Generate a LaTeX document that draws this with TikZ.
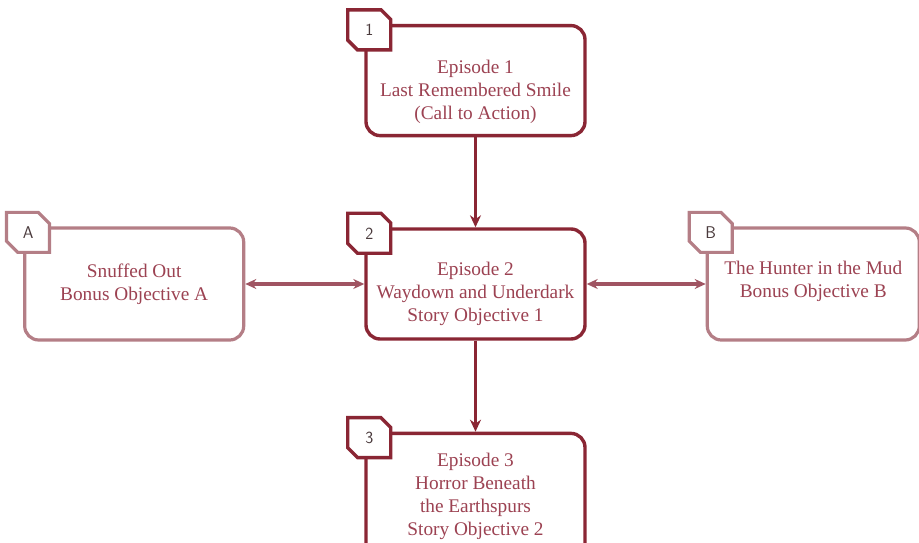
\documentclass[tikz,border=0pt]{standalone}
\usepackage{fontspec}
\setmainfont{Liberation Serif}
\usepackage{xcolor}
\definecolor{darkred}{RGB}{138,38,52}
\definecolor{palered}{RGB}{180,126,134}
\definecolor{linkred}{RGB}{160,84,98}
\definecolor{textred}{RGB}{156,66,82}
\definecolor{tagtext}{HTML}{4A3A3C}
\usetikzlibrary{positioning,shapes.misc,arrows.meta}

\begin{document}
\begin{tikzpicture}[x=1pt, y=1pt, node distance = 91pt and 119pt,
    episode/.style={rectangle, minimum width=219pt, minimum height=110pt,
        rounded corners=14pt, line width=3.4pt, draw=darkred, fill=white},
    bonus/.style={episode, draw=palered, line width=3.2pt, minimum height=112pt},
    tag/.style={chamfered rectangle, chamfered rectangle corners={north east,south west},
        chamfered rectangle xsep=8pt, chamfered rectangle ysep=8pt, inner sep=0pt,
        minimum width=43pt, minimum height=40pt, line width=3.4pt, draw=darkred,
        fill=white, font=\sffamily\fontsize{17}{17}\selectfont, text=tagtext},
    storytext/.style={align=center, text=textred, font=\fontsize{19.3}{23}\selectfont},
    link/.style={line width=3.4pt, draw=darkred, -{Stealth[length=12pt,width=11pt]}},
    sidelink/.style={line width=3.4pt, draw=linkred,
        {Stealth[length=11pt,width=10pt]}-{Stealth[length=11pt,width=10pt]}}]
    \clip (-475.5,-259) rectangle (443.5,284);
    % boxes
    \node (E2) [episode] {};
    \node (E1) [episode, above=90pt of E2] {};
    \node (E3) [episode, below=of E2, minimum height=125pt] {};
    \node (BA) [bonus, left=of E2] {};
    \node (BB) [bonus, right=of E2, minimum width=212pt] {};
    % texts
    \node (E1txt) [storytext] at ([yshift=-11pt]E1.center) {Episode 1\\Last Remembered Smile\\(Call to Action)};
    \node (E2txt) [storytext] at ([yshift=-10pt]E2.center) {Episode 2\\Waydown and Underdark\\Story Objective 1};
    \node (E3txt) [storytext] at (E3.center) {Episode 3\\Horror Beneath\\the Earthspurs\\Story Objective 2};
    \node (BAtxt) [storytext] at (BA.center) {Snuffed Out\\Bonus Objective A};
    \node (BBtxt) [storytext] at ([yshift=3pt]BB.center) {The Hunter in the Mud\\Bonus Objective B};
    % tags
    \node (T1) [tag] at ([xshift=5pt,yshift=-6pt]E1.north west) {1};
    \node (T2) [tag] at ([xshift=5pt,yshift=-6pt]E2.north west) {2};
    \node (T3) [tag] at ([xshift=5pt,yshift=-6pt]E3.north west) {3};
    \node (TA) [tag, draw=palered, line width=3.2pt] at ([xshift=5pt,yshift=-6pt]BA.north west) {A};
    \node (TB) [tag, draw=palered, line width=3.2pt] at ([xshift=5pt,yshift=-6pt]BB.north west) {B};
    % links
    \draw [link] (E1) -- (E2);
    \draw [link] (E2) -- (E3);
    \draw [sidelink] (BA) -- (E2);
    \draw [sidelink] (E2) -- (BB);
\end{tikzpicture}
\end{document}
